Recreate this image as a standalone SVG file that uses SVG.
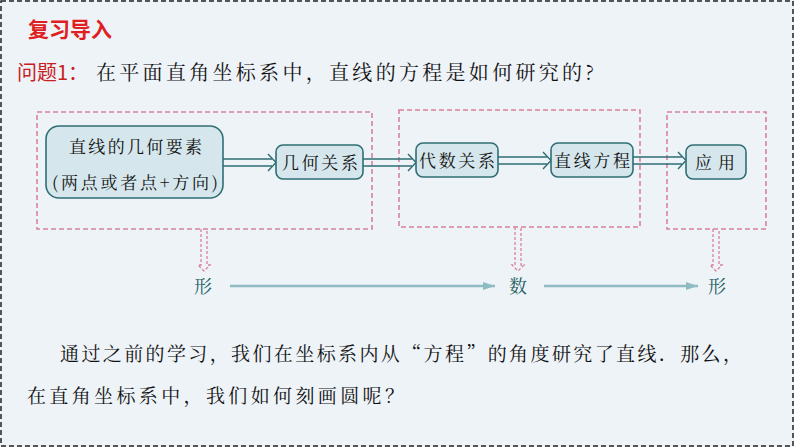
<svg xmlns="http://www.w3.org/2000/svg" width="794" height="447" viewBox="0 0 794 447">
<defs>
<style>
.t{font-family:"AR PL UKai CN","Noto Serif CJK SC","Noto Sans CJK SC",serif;fill:#111}
.pk{fill:none;stroke:#d9829a;stroke-width:1.6;stroke-dasharray:5,3}
.nd{fill:#d5e6ec;stroke:#2f6f73;stroke-width:1.6}
.dbl{fill:none;stroke:#2f6f73;stroke-width:1.4}
</style>
<marker id="ta" markerWidth="12" markerHeight="8" refX="12" refY="4" orient="auto" markerUnits="userSpaceOnUse"><path d="M0,0 L12,4 L0,8z" fill="#8fbcc3"/></marker>
</defs>
<rect width="794" height="447" fill="#eef3f8"/>
<rect x="1" y="1" width="792" height="445" fill="none" stroke="#222" stroke-width="1.5" stroke-dasharray="5,3"/>
<text x="28" y="37" font-family="Noto Sans CJK SC,sans-serif" font-size="21" font-weight="bold" fill="#e02020">复习导入</text>
<text x="17" y="80" font-family="Noto Sans CJK SC,sans-serif" font-size="20" fill="#c8201e">问题1：</text>
<text x="96" y="80" class="t" font-size="20" textLength="498" lengthAdjust="spacing">在平面直角坐标系中，直线的方程是如何研究的?</text>
<g id="boxes">
<rect class="pk" x="37" y="112" width="335" height="117"/>
<rect class="pk" x="399" y="110" width="241" height="117"/>
<rect class="pk" x="667" y="112" width="99" height="117"/>
</g>
<g id="connectors">
<g class="dbl">
<path d="M223,159 H272 M223,166 H272"/><path d="M268,154 L276,162.5 L268,171"/>
<path d="M363,159 H412 M363,166 H412"/><path d="M408,154 L416,162.5 L408,171"/>
<path d="M498,157 H547 M498,164 H547"/><path d="M543,152 L551,160.5 L543,169"/>
<path d="M633,157 H682 M633,164 H682"/><path d="M678,152 L686,160.5 L678,169"/>
</g>
<g fill="none" stroke="#d9829a" stroke-width="1.3" stroke-dasharray="3,2">
<path d="M201,229 V265 H198 L204,271 L210,265 H207 V229"/>
<path d="M515,227 V265 H512 L518,271 L524,265 H521 V227"/>
<path d="M713,229 V265 H710 L716,271 L722,265 H719 V229"/>
</g>
<g stroke="#8fbcc3" stroke-width="2.5">
<line x1="230" y1="286" x2="495" y2="286" marker-end="url(#ta)"/>
<line x1="544" y1="286" x2="698" y2="286" marker-end="url(#ta)"/>
</g>
</g>
<g id="n1"><rect class="nd" x="46" y="126" width="177" height="72" rx="13"/>
<text class="t" x="69" y="153" font-size="17" textLength="133" lengthAdjust="spacing">直线的几何要素</text>
<text class="t" x="52" y="189" font-size="17" textLength="166" lengthAdjust="spacing">(两点或者点+方向)</text></g>
<g id="n2"><rect class="nd" x="276" y="145" width="87" height="34" rx="7"/><text class="t" x="282" y="169" font-size="17" textLength="76" lengthAdjust="spacing">几何关系</text></g>
<g id="n3"><rect class="nd" x="416" y="143" width="82" height="34" rx="7"/><text class="t" x="419" y="167" font-size="17" textLength="76" lengthAdjust="spacing">代数关系</text></g>
<g id="n4"><rect class="nd" x="551" y="143" width="82" height="34" rx="7"/><text class="t" x="554" y="167" font-size="17" textLength="76" lengthAdjust="spacing">直线方程</text></g>
<g id="n5"><rect class="nd" x="686" y="145" width="60" height="34" rx="7"/><text class="t" x="695" y="169" font-size="17" textLength="40" lengthAdjust="spacing">应用</text></g>
<g id="labels" font-size="18">
<text class="t" x="203" y="293" text-anchor="middle" style="fill:#1f5f63">形</text>
<text class="t" x="518" y="293" text-anchor="middle" style="fill:#1f5f63">数</text>
<text class="t" x="717" y="293" text-anchor="middle" style="fill:#1f5f63">形</text>
</g>
<text class="t" x="60" y="361" font-size="19" textLength="682" lengthAdjust="spacing">通过之前的学习，我们在坐标系内从“方程”的角度研究了直线．那么，</text>
<text class="t" x="27" y="403" font-size="19" textLength="377" lengthAdjust="spacing">在直角坐标系中，我们如何刻画圆呢？</text>
</svg>
